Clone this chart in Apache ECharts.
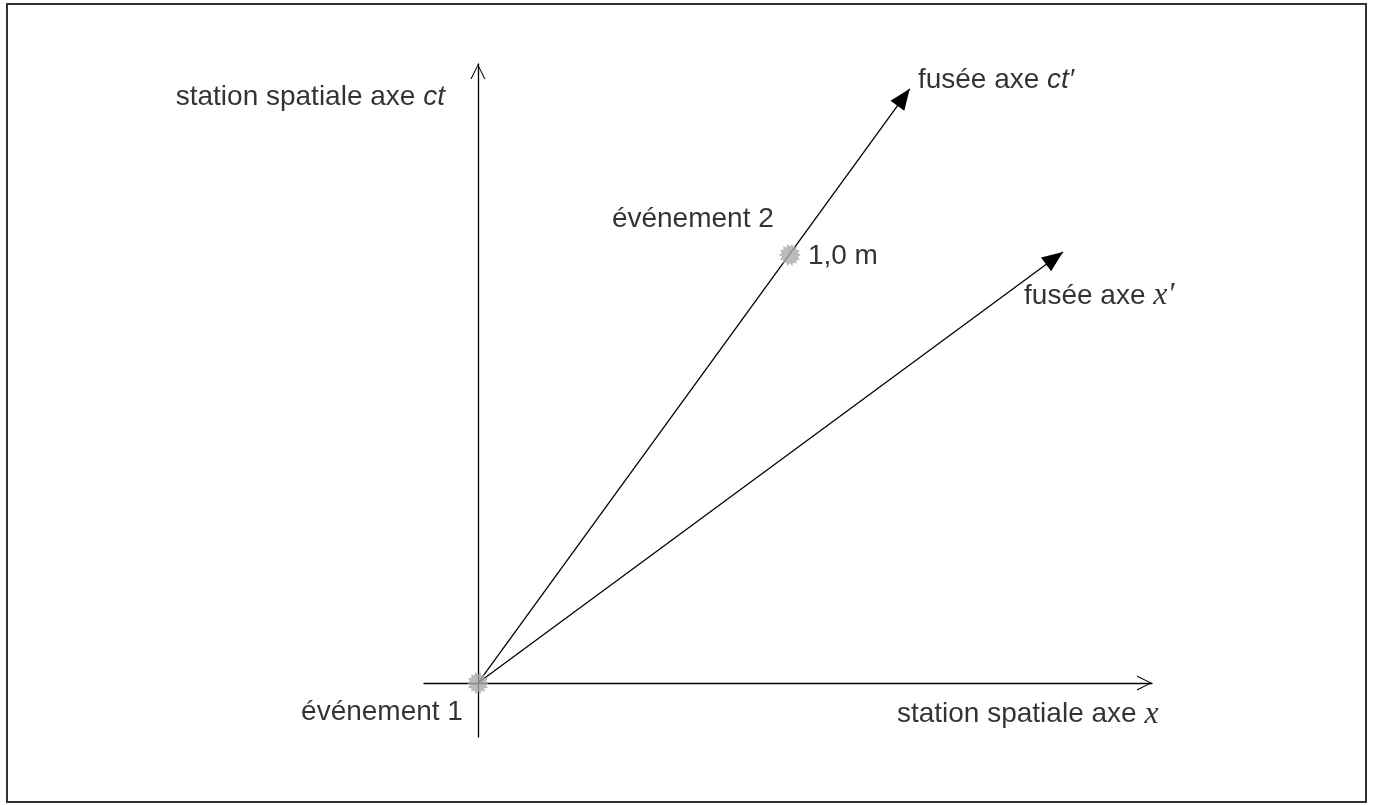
<!DOCTYPE html>
<html>
<head>
<meta charset="utf-8">
<style>
  html, body { margin: 0; padding: 0; background: #fff; }
  #main { width: 1375px; height: 805px; }
</style>
</head>
<body>
<div id="main"></div>
<script src="https://cdn.jsdelivr.net/npm/echarts@6/dist/echarts.min.js"></script>
<script>
// axes ranges (x and ct, metres)
var xMin = -0.126, xMax = 1.575;
var ctMin = -0.126, ctMax = 1.446;

// events
var eventNames = ['événement 1', 'événement 2'];
var eventX = [0, 0.729];
var eventCt = [0, 1.0];

// rocket axes (from origin to arrow tip)
var rocketAxes = ['ct′', 'x′'];
var rocketTipX = [1.009, 1.367];
var rocketTipCt = [1.388, 1.007];

// text labels
var labelText = ['station spatiale axe {ct|ct}', 'fusée axe {ct|ct′}', 'événement 2', '1,0 m',
                 'fusée axe {xs|x′}', 'événement 1', 'station spatiale axe {xs|x}'];
var labelX  = [-0.077, 1.028, 0.313, 0.771, 1.276, -0.035, 0.979];
var labelCt = [1.369, 1.407, 1.084, 0.998, 0.904, -0.068, -0.074];
var labelSide = ['left', 'right', 'right', 'right', 'right', 'left', 'right'];

// starburst marker
var burst = 'path://';
for (var i = 0; i < 28; i++) {
    var r = i % 2 ? 74 : 100;
    var a = Math.PI * 2 * i / 28;
    burst += (i ? 'L' : 'M') + (100 + r * Math.cos(a)).toFixed(1) + ',' + (100 + r * Math.sin(a)).toFixed(1);
}
burst += 'Z';

// open arrow head (pointing up)
var chevron = 'path://M0,100 L50,0 L100,100 L92,100 L50,14 L8,100 Z';

var font = 'Liberation Sans, Arial, sans-serif';
var rich = {
    ct: { fontFamily: font, fontStyle: 'italic', fontSize: 28, color: '#000' },
    xs: { fontFamily: 'Liberation Serif, Times New Roman, serif', fontStyle: 'italic', fontSize: 32, color: '#000' }
};

var axisCommon = {
    type: 'value',
    axisLine: {
        show: true, onZero: true,
        symbol: ['none', chevron], symbolSize: [16, 15], symbolOffset: [0, -7.5],
        lineStyle: { color: '#000', width: 1.3 }
    },
    axisTick: { show: false },
    axisLabel: { show: false },
    splitLine: { show: false }
};

var myChart = echarts.init(document.getElementById('main'));
var option = {
    backgroundColor: '#fff',
    animation: false,
    graphic: [{
        type: 'rect', shape: { x: 7, y: 4, width: 1359, height: 798 },
        style: { fill: 'none', stroke: '#333', lineWidth: 2 }, z: 100
    }],
    grid: { left: 424, right: 223, top: 64, bottom: 68 },
    xAxis: Object.assign({ min: xMin, max: xMax }, axisCommon),
    yAxis: Object.assign({ min: ctMin, max: ctMax }, axisCommon),
    series: [
        {
            type: 'scatter',
            symbol: burst,
            symbolSize: 22,
            itemStyle: { color: '#a9a9a9' },
            data: eventNames.map(function (n, i) { return { name: n, value: [eventX[i], eventCt[i]] }; }),
            z: 5,
            markLine: {
                silent: true,
                animation: false,
                symbol: ['none', 'triangle'],
                symbolSize: [17, 21],
                symbolOffset: [0, [0, 10.5]],
                label: { show: false },
                lineStyle: { color: '#000', width: 1.3, type: 'solid' },
                itemStyle: { color: '#000' },
                emphasis: { disabled: true },
                data: rocketAxes.map(function (n, i) {
                    return [{ name: n, coord: [0, 0] }, { coord: [rocketTipX[i], rocketTipCt[i]] }];
                })
            }
        },
        {
            type: 'scatter',
            symbolSize: 0,
            data: labelText.map(function (t, i) {
                return {
                    value: [labelX[i], labelCt[i]],
                    label: {
                        show: true, position: labelSide[i], distance: 0,
                        formatter: t, fontFamily: font, fontSize: 28, color: '#000', rich: rich
                    }
                };
            }),
            z: 6
        }
    ]
};
myChart.setOption(option);
</script>
</body>
</html>
